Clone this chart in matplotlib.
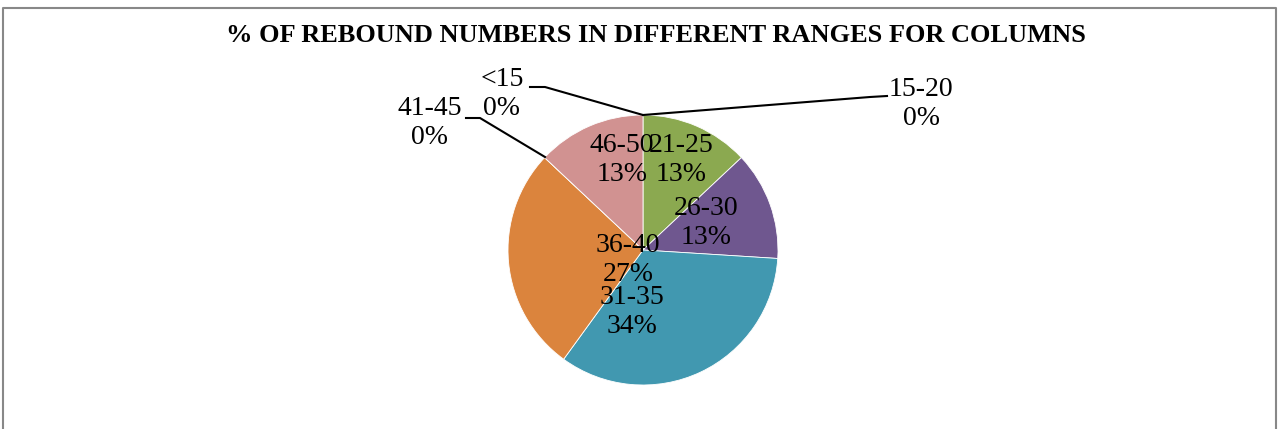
import matplotlib
matplotlib.use('Agg')
import matplotlib.pyplot as plt

# rebound number ranges and their share (%)
categories = ['<15', '15-20', '21-25', '26-30', '31-35', '36-40', '41-45', '46-50']
shares = [0, 0, 13, 13, 34, 27, 0, 13]
colors = ['#4F81BD', '#C0504D', '#8BA950', '#6F578F', '#4198B0', '#DB843D', '#2C4D75', '#D19291']

title = '% OF REBOUND NUMBERS IN DIFFERENT RANGES FOR COLUMNS'

W, H = 1279, 429
fig = plt.figure(figsize=(W / 100, H / 100), dpi=100)
ax = fig.add_axes([0, 0, 1, 1])

plt.rcParams['font.family'] = ['Liberation Serif', 'DejaVu Serif']

# pie drawn in pixel space (y axis flipped, so counterclock=True runs clockwise on screen)
cx, cy, r = 643, 250, 135
ax.pie(shares, colors=colors, startangle=-90, counterclock=True,
       center=(cx, cy), radius=r, frame=True,
       wedgeprops=dict(edgecolor='white', linewidth=0.6))
ax.set_xlim(0, W)
ax.set_ylim(H, 0)
ax.set_aspect('equal')
ax.axis('off')

fs = 20
ls = 1.22
# labels inside slices
inside = {'21-25': (681, 160), '26-30': (706, 223), '31-35': (632, 312),
          '36-40': (628, 260), '46-50': (622, 160)}
for cat, val in zip(categories, shares):
    if cat in inside:
        x, y = inside[cat]
        ax.text(x, y, f'{cat}\n{val}%', ha='center', va='center', fontsize=fs,
                linespacing=ls)

# zero-share labels with leader lines
outside = {'<15': ((502, 94), [(530, 87), (545, 87), (cx, cy - r)]),
           '15-20': ((921, 104), [(cx, cy - r), (870, 97), (887, 96)]),
           '41-45': ((430, 123), [(466, 118), (480, 118), (545, 157)])}
for cat, val in zip(categories, shares):
    if cat in outside:
        (x, y), pts = outside[cat]
        ax.text(x, y, f'{cat}\n{val}%', ha='center', va='center', fontsize=fs,
                linespacing=ls)
        ax.plot([p[0] for p in pts], [p[1] for p in pts], color='black', lw=1.5)

ax.text(656, 35, title, ha='center', va='center', fontsize=19, fontweight='bold')

# chart frame
ax.plot([3, 3, W - 3, W - 3], [H, 8, 8, H], color='#888888', lw=1.5, clip_on=False)

fig.savefig('out.png', dpi=100)
